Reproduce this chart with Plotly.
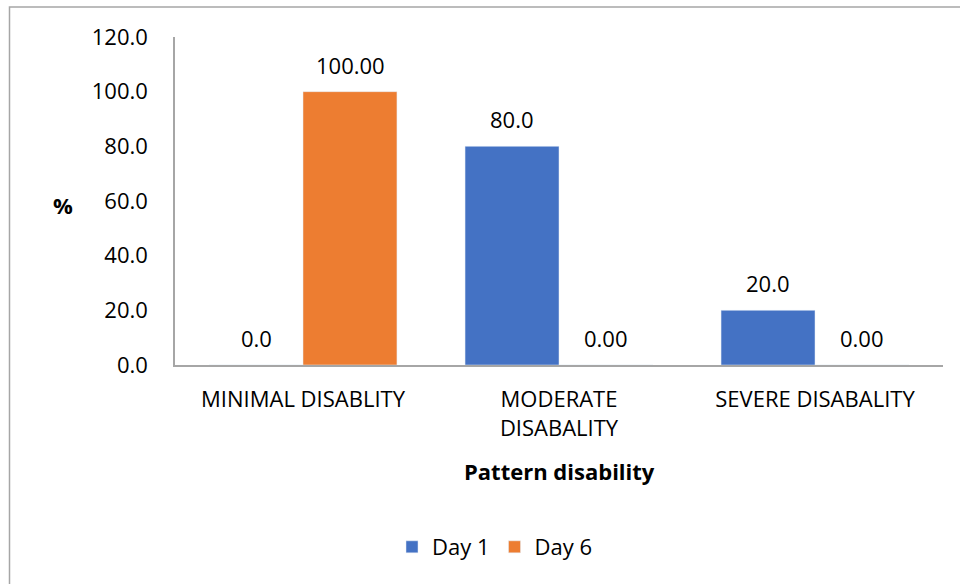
import plotly.graph_objects as go

# Data
categories = ["MINIMAL DISABLITY", "MODERATE<br>DISABALITY", "SEVERE DISABALITY"]
day1 = [0.0, 80.0, 20.0]
day6 = [100.00, 0.00, 0.00]
y_ticks = [0, 20, 40, 60, 80, 100, 120]
y_tick_labels = ["0.0", "20.0", "40.0", "60.0", "80.0", "100.0", "120.0"]

BLUE = "#4472C4"
ORANGE = "#ED7D31"
FONT = "Open Sans"
FS = 22
W, H = 960, 584
L, R, T, B = 175, 17, 37, 219
PW, PH = W - L - R, H - T - B


def px_x(x):
    return (x - L) / PW


def px_y(y):
    return (H - B - y) / PH


fig = go.Figure()
fig.add_trace(go.Bar(name="Day 1", x=categories, y=day1, marker_color=BLUE))
fig.add_trace(go.Bar(name="Day 6", x=categories, y=day6, marker_color=ORANGE))

# Value labels above each bar
annotations = []
for i, cat in enumerate(categories):
    annotations.append(dict(x=cat, y=day1[i], xref="x", yref="y", text=f"{day1[i]:.1f}",
                            showarrow=False, xshift=-47, yshift=27, yanchor="middle",
                            font=dict(family=FONT, size=FS, color="#000")))
    annotations.append(dict(x=cat, y=day6[i], xref="x", yref="y", text=f"{day6[i]:.2f}",
                            showarrow=False, xshift=47, yshift=27, yanchor="middle",
                            font=dict(family=FONT, size=FS, color="#000")))

# Axis titles
annotations.append(dict(x=px_x(559), y=px_y(471), xref="paper", yref="paper",
                        xanchor="center", yanchor="middle",
                        text="<b>Pattern disability</b>", showarrow=False,
                        font=dict(family=FONT, size=FS, color="#000")))
annotations.append(dict(x=px_x(63), y=px_y(205), xref="paper", yref="paper",
                        xanchor="center", yanchor="middle",
                        text="<b>%</b>", showarrow=False,
                        font=dict(family=FONT, size=FS, color="#000")))

# Outer chart frame
shapes = [dict(type="rect", xref="paper", yref="paper",
               x0=px_x(9.5), x1=px_x(990), y0=px_y(620), y1=px_y(7),
               line=dict(color="#A6A6A6", width=1.5), fillcolor="rgba(0,0,0,0)")]

fig.update_layout(
    width=W, height=H,
    margin=dict(l=L, r=R, t=T, b=B, pad=0),
    paper_bgcolor="white", plot_bgcolor="white",
    barmode="group", bargap=0.266, bargroupgap=0,
    font=dict(family=FONT, size=FS, color="#000"),
    showlegend=True,
    legend=dict(orientation="h", x=px_x(495), y=px_y(547), xanchor="center", yanchor="middle",
                font=dict(family=FONT, size=FS, color="#000"), itemwidth=30,
                traceorder="normal"),
    annotations=annotations,
    shapes=shapes,
)
fig.update_xaxes(showline=True, linecolor="#A6A6A6", linewidth=1.5, ticks="",
                 tickfont=dict(family=FONT, size=FS, color="#000"), ticklabelstandoff=14,
                 showgrid=False)
fig.update_yaxes(range=[0, 120], tickvals=y_ticks, ticktext=y_tick_labels,
                 showline=True, linecolor="#A6A6A6", linewidth=1.5, ticks="",
                 tickfont=dict(family=FONT, size=FS, color="#000"), ticklabelstandoff=21,
                 showgrid=False, zeroline=False)

fig.write_html("out.html")
